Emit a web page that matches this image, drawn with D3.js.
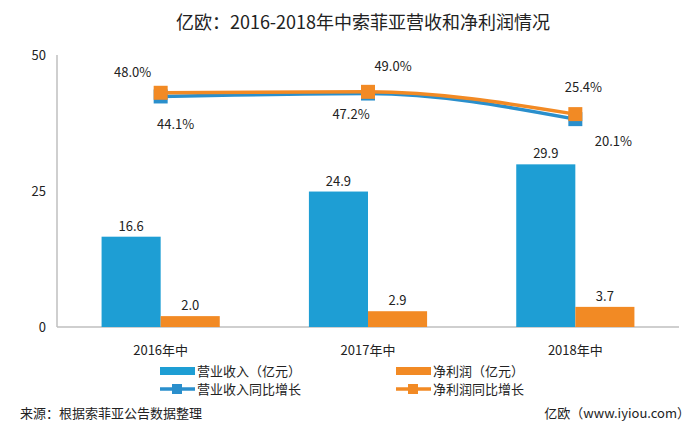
<!DOCTYPE html>
<html><head><meta charset="utf-8">
<script src="https://cdn.jsdelivr.net/npm/d3@7/dist/d3.min.js"></script>
<style>
body{margin:0;background:#fff;}
text{font-family:"Noto Sans CJK SC","Noto Sans",sans-serif;fill:#222;}
</style></head><body>
<svg id="c" width="700" height="430"></svg>
<script>
const categories = ["2016年中","2017年中","2018年中"];
const revenue = [16.6, 24.9, 29.9];
const profit = [2.0, 2.9, 3.7];
const revenueGrowth = [44.1, 47.2, 20.1];
const profitGrowth = [48.0, 49.0, 25.4];
const yTicks = [0, 25, 50];
const blue = "#1E9ED4", orange = "#F28A24", lineBlue = "#2A8FCC";

const svg = d3.select("#c");
const pL = 57, pR = 679, pT = 55, pB = 327;
const x = d3.scaleBand().domain(categories).range([pL, pR]).paddingInner(0.43).paddingOuter(0.215);
const y = d3.scaleLinear().domain([0, 50]).range([pB, pT]);
const y2 = d3.scaleLinear().domain([-200, 88]).range([pB, pT]);
const cx = c => x(c) + x.bandwidth() / 2;
const bw = x.bandwidth() / 2;

svg.append("text").attr("x", 363).attr("y", 29).attr("text-anchor", "middle")
  .style("font-size", "18px").text("亿欧：2016-2018年中索菲亚营收和净利润情况");

// axes
svg.append("line").attr("x1", pL).attr("x2", pL).attr("y1", pT).attr("y2", pB).attr("stroke", "#bfbfbf").attr("stroke-width", 1.5);
svg.append("line").attr("x1", pL).attr("x2", pR).attr("y1", pB).attr("y2", pB).attr("stroke", "#bfbfbf").attr("stroke-width", 1.5);
svg.selectAll(".yt").data(yTicks).join("text").attr("x", 46).attr("y", d => y(d) + 5)
  .attr("text-anchor", "end").style("font-size", "13px").text(d => d);
svg.selectAll(".xt").data(categories).join("text").attr("x", d => cx(d)).attr("y", 355)
  .attr("text-anchor", "middle").style("font-size", "13px").text(d => d);

// bars
svg.selectAll(".rb").data(revenue).join("rect").attr("x", (d, i) => cx(categories[i]) - bw)
  .attr("y", d => y(d)).attr("width", bw).attr("height", d => pB - y(d)).attr("fill", blue);
svg.selectAll(".pb").data(profit).join("rect").attr("x", (d, i) => cx(categories[i]))
  .attr("y", d => y(d)).attr("width", bw).attr("height", d => pB - y(d)).attr("fill", orange);
svg.selectAll(".rl").data(revenue).join("text").attr("x", (d, i) => cx(categories[i]) - bw / 2)
  .attr("y", d => y(d) - 6).attr("text-anchor", "middle").style("font-size", "13px").text(d => d.toFixed(1));
svg.selectAll(".pl").data(profit).join("text").attr("x", (d, i) => cx(categories[i]) + bw / 2)
  .attr("y", d => y(d) - 6).attr("text-anchor", "middle").style("font-size", "13px").text(d => d.toFixed(1));

// lines
const line = d3.line().x((d, i) => cx(categories[i])).y(d => y2(d)).curve(d3.curveMonotoneX);
function drawLine(data, col) {
  svg.append("path").datum(data).attr("d", line).attr("fill", "none").attr("stroke", col).attr("stroke-width", 3.5);
  svg.selectAll(null).data(data).join("rect").attr("x", (d, i) => cx(categories[i]) - 7)
    .attr("y", d => y2(d) - 7).attr("width", 14).attr("height", 14).attr("fill", col);
}
drawLine(revenueGrowth, lineBlue);
drawLine(profitGrowth, orange);

// growth labels
const rgOff = [[15, 33], [-17, 25], [38, 27]];
const pgOff = [[-28, -16], [25, -21], [8, -22]];
svg.selectAll(".rgl").data(revenueGrowth).join("text").attr("x", (d, i) => cx(categories[i]) + rgOff[i][0])
  .attr("y", (d, i) => y2(d) + rgOff[i][1]).attr("text-anchor", "middle").style("font-size", "13px").text(d => d.toFixed(1) + "%");
svg.selectAll(".pgl").data(profitGrowth).join("text").attr("x", (d, i) => cx(categories[i]) + pgOff[i][0])
  .attr("y", (d, i) => y2(d) + pgOff[i][1]).attr("text-anchor", "middle").style("font-size", "13px").text(d => d.toFixed(1) + "%");

// legend
const lg = [
  {t: "营业收入（亿元）", c: blue, type: "bar", x: 160, y: 371},
  {t: "净利润（亿元）", c: orange, type: "bar", x: 396, y: 371},
  {t: "营业收入同比增长", c: lineBlue, type: "line", x: 160, y: 389},
  {t: "净利润同比增长", c: orange, type: "line", x: 396, y: 389}
];
lg.forEach(d => {
  if (d.type === "bar") {
    svg.append("rect").attr("x", d.x).attr("y", d.y - 4).attr("width", 35).attr("height", 8).attr("fill", d.c);
  } else {
    svg.append("line").attr("x1", d.x).attr("x2", d.x + 35).attr("y1", d.y).attr("y2", d.y).attr("stroke", d.c).attr("stroke-width", 3.5);
    svg.append("rect").attr("x", d.x + 12).attr("y", d.y - 5).attr("width", 10).attr("height", 10).attr("fill", d.c);
  }
  svg.append("text").attr("x", d.x + 37).attr("y", d.y + 5).style("font-size", "13px").text(d.t);
});

svg.append("text").attr("x", 20).attr("y", 418).style("font-size", "13px").text("来源：根据索菲亚公告数据整理");
svg.append("text").attr("x", 690).attr("y", 418).attr("text-anchor", "end").style("font-size", "13px").text("亿欧（www.iyiou.com）");
</script>
</body></html>
